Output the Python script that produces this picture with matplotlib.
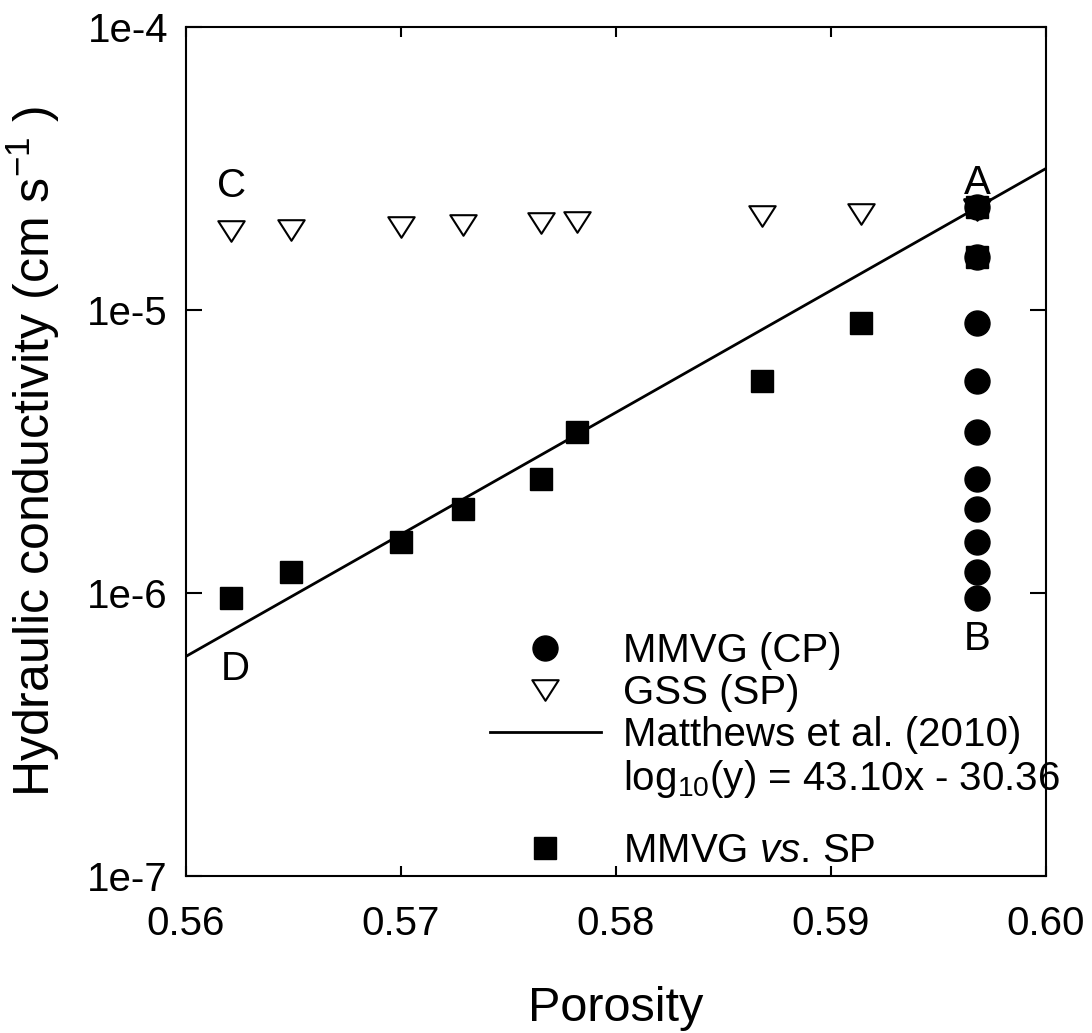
import numpy as np
import matplotlib
matplotlib.use('Agg')
import matplotlib.pyplot as plt
from matplotlib.path import Path
from matplotlib.lines import Line2D

plt.rcParams['font.family'] = ['Liberation Sans', 'DejaVu Sans']
plt.rcParams['mathtext.fontset'] = 'custom'
plt.rcParams['mathtext.rm'] = 'Liberation Sans'
plt.rcParams['mathtext.it'] = 'Liberation Sans:italic'

# porosity from spatially variable (SP) and constant (CP) porosity
porosity_sp = [0.5621, 0.5649, 0.5700, 0.5729, 0.5765, 0.5782, 0.5868, 0.5914, 0.5968, 0.5968]
porosity_cp = [0.5968] * 10

# hydraulic conductivity (cm/s)
k_mmvg = [9.6e-7, 1.19e-6, 1.52e-6, 1.98e-6, 2.52e-6, 3.72e-6, 5.62e-6, 9.0e-6, 1.54e-5, 2.31e-5]
k_gss = [1.90e-5, 1.92e-5, 1.96e-5, 2.00e-5, 2.03e-5, 2.05e-5, 2.14e-5, 2.18e-5, 2.25e-5, 2.28e-5]

# Matthews et al. (2010): log10(K) = 43.10 * porosity - 30.36
slope, intercept = 43.10, -30.36
x_fit = np.linspace(0.56, 0.60, 50)

FS_TICK = 29
FS_LAB = 35
FS_LEG = 29

fig = plt.figure(figsize=(10.92, 10.33), dpi=100)
ax = fig.add_axes([0.1703, 0.152, 0.7876, 0.8219])

# wide, flat down-pointing triangle
tri = Path([(-1, 0.78), (1, 0.78), (0, -0.78), (-1, 0.78)],
           [Path.MOVETO, Path.LINETO, Path.LINETO, Path.CLOSEPOLY])

h_cp, = ax.plot(porosity_cp, k_mmvg, 'o', color='black', ms=18, zorder=3)
h_gss, = ax.plot(porosity_sp, k_gss, marker=tri, ls='none', mfc='white', mec='black',
                 mew=1.5, ms=19, zorder=3)
h_fit, = ax.plot(x_fit, 10 ** (slope * x_fit + intercept), '-', color='black', lw=2,
                 zorder=4)
h_sp, = ax.plot(porosity_sp, k_mmvg, 's', color='black', ms=16, zorder=5)

ax.text(0.5621, 2.75e-5, 'C', fontsize=FS_LEG, ha='center', va='center')
ax.text(0.5968, 2.8e-5, 'A', fontsize=FS_LEG, ha='center', va='center')
ax.text(0.5968, 6.9e-7, 'B', fontsize=FS_LEG, ha='center', va='center')
ax.text(0.5623, 5.4e-7, 'D', fontsize=FS_LEG, ha='center', va='center')

ax.set_yscale('log')
ax.set_xlim(0.56, 0.60)
ax.set_ylim(1e-7, 1e-4)
ax.set_xticks([0.56, 0.57, 0.58, 0.59, 0.60])
ax.set_xticklabels(['0.56', '0.57', '0.58', '0.59', '0.60'])
ax.set_yticks([1e-7, 1e-6, 1e-5, 1e-4])
ax.set_yticklabels(['1e-7', '1e-6', '1e-5', '1e-4'])
ax.minorticks_off()

ax.tick_params(axis='x', direction='in', length=7, width=1.5, pad=21, labelsize=FS_TICK,
               top=True)
ax.tick_params(axis='y', direction='in', length=11.5, width=1.5, pad=13, labelsize=FS_TICK,
               right=True)
for s in ax.spines.values():
    s.set_linewidth(1.5)

ax.set_xlabel('Porosity', fontsize=FS_LAB, labelpad=31)
ax.set_ylabel('Hydraulic conductivity (cm s$^{-1}$ )', fontsize=FS_LAB + 1, labelpad=18)

blank = Line2D([], [], ls='none', marker='none')
leg_kw = dict(frameon=False, fontsize=FS_LEG, handlelength=2.75, handletextpad=0.55,
              borderpad=0, borderaxespad=0, loc='upper left')
leg1 = ax.legend([h_cp, h_gss, h_fit, blank],
                 ['MMVG (CP)', 'GSS (SP)', 'Matthews et al. (2010)',
                  'log$_{10}$(y) = 43.10x - 30.36'],
                 labelspacing=0.1, bbox_to_anchor=(0.3535, 0.2874), **leg_kw)
ax.add_artist(leg1)
ax.legend([h_sp], ['MMVG $\\it{vs}$. SP'], bbox_to_anchor=(0.3535, 0.0516), **leg_kw)

fig.savefig('out.png', dpi=100)
